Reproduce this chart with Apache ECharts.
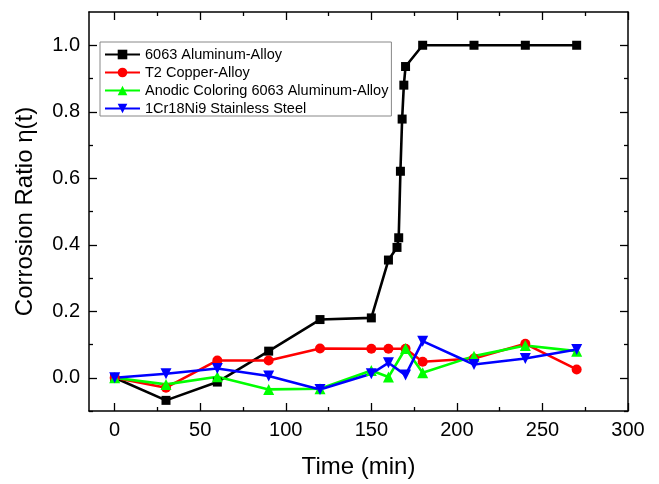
<!DOCTYPE html>
<html>
<head>
<meta charset="utf-8">
<script src="https://cdn.jsdelivr.net/npm/echarts@6/dist/echarts.min.js"></script>
<style>
html, body { margin: 0; padding: 0; background: #fff; }
#main { width: 659px; height: 484px; }
</style>
</head>
<body>
<div id="main"></div>
<script>
// data
var alTime = [0, 30, 60, 90, 120, 150, 160, 165, 166, 167, 168, 169, 170, 180, 210, 240, 270]
var alRatio = [0, -0.068, -0.013, 0.08, 0.175, 0.18, 0.354, 0.392, 0.421, 0.621, 0.778, 0.88, 0.936, 1.0, 1.0, 1.0, 1.0]

var time = [0, 30, 60, 90, 120, 150, 160, 170, 180, 210, 240, 270]
var cuRatio = [0, -0.03, 0.052, 0.052, 0.088, 0.087, 0.087, 0.087, 0.048, 0.058, 0.102, 0.025]
var anRatio = [0, -0.02, 0.003, -0.035, -0.033, 0.022, 0.002, 0.088, 0.015, 0.065, 0.097, 0.08]
var ssRatio = [0, 0.012, 0.028, 0.005, -0.035, 0.012, 0.045, 0.008, 0.11, 0.04, 0.058, 0.085]

var names = ['6063 Aluminum-Alloy', 'T2 Copper-Alloy', 'Anodic Coloring 6063 Aluminum-Alloy', '1Cr18Ni9 Stainless Steel']

var xMajor = [0, 50, 100, 150, 200, 250, 300]
var xMinor = [25, 75, 125, 175, 225, 275]
var yMajor = [0, 0.2, 0.4, 0.6, 0.8, 1.0]
var yMinor = [-0.1, 0.1, 0.3, 0.5, 0.7, 0.9]

function pairs(xs, ys) {
    var out = []
    for (var i = 0; i < xs.length; i++) {
        out.push([xs[i], ys[i]])
    }
    return out
}

var font = 'Liberation Sans, Arial, sans-serif'

function xAx(pos, ticks, len, line, label) {
    return {
        type: 'value', position: pos, min: -15, max: 300,
        axisLine: { show: line, onZero: false, lineStyle: { color: '#000', width: 1.5 } },
        axisTick: { show: true, inside: true, length: len, customValues: ticks, lineStyle: { color: '#000', width: 1.3 } },
        axisLabel: { show: label, customValues: xMajor, margin: 9, color: '#000', fontSize: 20, fontFamily: font },
        splitLine: { show: false }
    }
}
function yAx(pos, ticks, len, line, label) {
    return {
        type: 'value', position: pos, min: -0.1, max: 1.1,
        axisLine: { show: line, onZero: false, lineStyle: { color: '#000', width: 1.5 } },
        axisTick: { show: true, inside: true, length: len, customValues: ticks, lineStyle: { color: '#000', width: 1.3 } },
        axisLabel: {
            show: label, customValues: yMajor, margin: 9, color: '#000', fontSize: 20, fontFamily: font,
            formatter: function (v) { return v.toFixed(1) }
        },
        splitLine: { show: false }
    }
}

var xMain = xAx('bottom', xMajor, 8, true, true)
xMain.name = 'Time (min)'
xMain.nameLocation = 'middle'
xMain.nameGap = 44
xMain.nameTextStyle = { color: '#000', fontSize: 24, fontFamily: font }

var yMain = yAx('left', yMajor, 8, true, true)
yMain.name = 'Corrosion Ratio η(t)'
yMain.nameLocation = 'middle'
yMain.nameGap = 52
yMain.nameTextStyle = { color: '#000', fontSize: 24, fontFamily: font }

function line(name, data, color, symbol, size, rotate) {
    return {
        name: name, type: 'line', data: data,
        symbol: symbol, symbolSize: size, symbolRotate: rotate || 0,
        itemStyle: { color: color },
        lineStyle: { color: color, width: 2.6 },
        animation: false
    }
}

var myChart = echarts.init(document.getElementById('main'))
myChart.setOption({
    backgroundColor: '#fff',
    grid: { left: 89, right: 31, top: 12, bottom: 71 },
    legend: {
        orient: 'vertical', left: 100, top: 42,
        data: names,
        itemWidth: 35, itemHeight: 12, itemGap: 3,
        padding: [5, 3, 0, 4],
        borderColor: '#888', borderWidth: 1,
        textStyle: { color: '#000', fontSize: 14.5, lineHeight: 15, fontFamily: font }
    },
    xAxis: [
        xMain,
        xAx('bottom', xMinor, 4, false, false),
        xAx('top', xMajor, 8, true, false),
        xAx('top', xMinor, 4, false, false)
    ],
    yAxis: [
        yMain,
        yAx('left', yMinor, 4, false, false),
        yAx('right', yMajor, 8, true, false),
        yAx('right', yMinor, 4, false, false)
    ],
    series: [
        line(names[0], pairs(alTime, alRatio), '#000000', 'rect', 9),
        line(names[1], pairs(time, cuRatio), '#ff0000', 'circle', 10),
        line(names[2], pairs(time, anRatio), '#00ff00', 'triangle', 11),
        line(names[3], pairs(time, ssRatio), '#0000ff', 'triangle', 11, 180)
    ]
})
</script>
</body>
</html>
